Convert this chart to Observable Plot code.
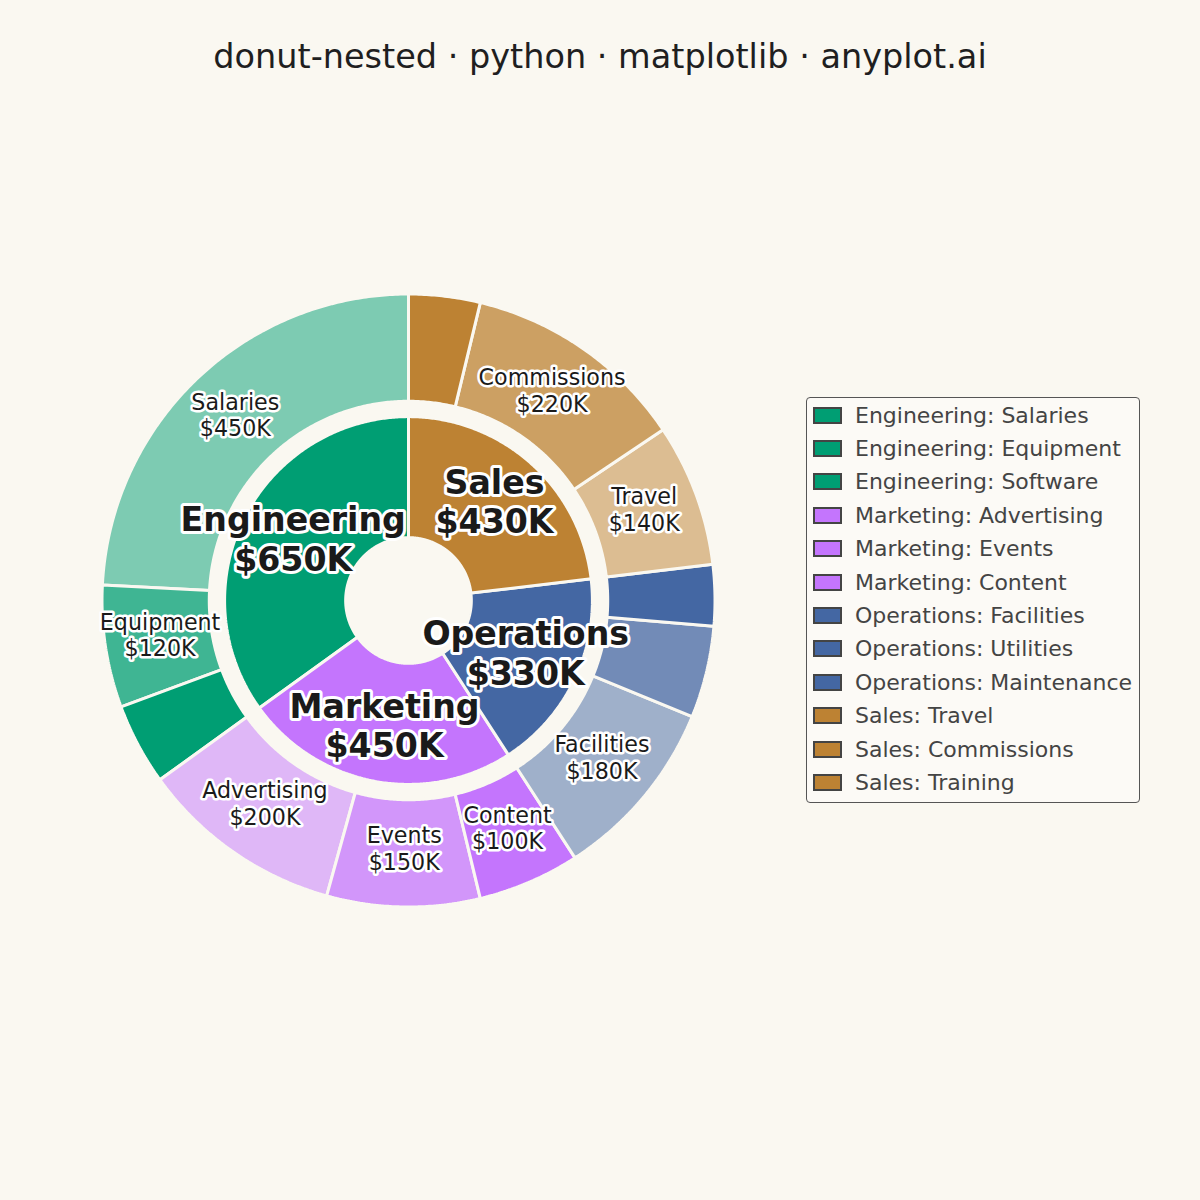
<!DOCTYPE html>
<html>
<head>
<meta charset="utf-8">
<script src="https://cdn.jsdelivr.net/npm/d3@7"></script>
<script src="https://cdn.jsdelivr.net/npm/@observablehq/plot@0.6"></script>
<style>
  html, body { margin: 0; padding: 0; background: #FAF8F1; }
  #wrap { position: relative; width: 1200px; height: 1200px; font-family: "DejaVu Sans", sans-serif; }
  #title { position: absolute; left: 0; top: 37px; width: 1200px; text-align: center; font-size: 33.5px; line-height: 40px; color: #1f1f1f; }
  #chart { position: absolute; left: 0; top: 0; }
  #legend { position: absolute; left: 806px; top: 397px; width: 332px; height: 404px; border: 1px solid #555; border-radius: 4px; background: #FCFAF6; box-sizing: content-box; }
  .row { position: absolute; left: 0; height: 34px; display: flex; align-items: center; }
  .sw { width: 25px; height: 13px; border: 2px solid #444; margin-left: 6px; margin-right: 13px; }
  .lab { font-size: 22px; color: #444; white-space: nowrap; }
</style>
</head>
<body>
<div id="wrap">
  <div id="chart"></div>
  <div id="title">donut-nested · python · matplotlib · anyplot.ai</div>
  <div id="legend"></div>
</div>
<script>
// ---- data ----
const departments = ["Engineering", "Marketing", "Operations", "Sales"];
const deptValues = [650, 450, 330, 430];
const deptColors = ["#009E73", "#C475FD", "#4467A3", "#BD8233"];

const subDept = ["Engineering", "Engineering", "Engineering",
                 "Marketing", "Marketing", "Marketing",
                 "Operations", "Operations", "Operations",
                 "Sales", "Sales", "Sales"];
const subNames = ["Salaries", "Equipment", "Software",
                  "Advertising", "Events", "Content",
                  "Facilities", "Utilities", "Maintenance",
                  "Travel", "Commissions", "Training"];
const subValues = [450, 120, 80,
                   200, 150, 100,
                   180, 90, 60,
                   140, 220, 70];
const subShade = [0.5, 0.75, 1.0]; // lightness levels within a department

// ---- layout / style constants ----
const bg = "#FAF8F1";
const rHole = 0.205, rInnerOut = 0.6, rOuterIn = 0.65, rOuterOut = 1.0;
const rInnerLabel = 0.4225, rOuterLabel = 0.82;
const labelMin = 100;
const fmt = v => `$${v}K`;

const total = d3.sum(deptValues);
const colorOf = Object.fromEntries(departments.map((d, i) => [d, deptColors[i]]));

function ring(values, r0, r1, ids) {
  const rows = [];
  const mids = [];
  let a = 90;
  values.forEach((v, i) => {
    const span = v / total * 360;
    const a0 = a, a1 = a + span;
    const n = Math.max(2, Math.ceil(span / 0.5));
    for (let k = 0; k <= n; k++) {
      const t = (a0 + (a1 - a0) * k / n) * Math.PI / 180;
      rows.push({id: ids[i], x: r1 * Math.cos(t), y: r1 * Math.sin(t), idx: i});
    }
    for (let k = n; k >= 0; k--) {
      const t = (a0 + (a1 - a0) * k / n) * Math.PI / 180;
      rows.push({id: ids[i], x: r0 * Math.cos(t), y: r0 * Math.sin(t), idx: i});
    }
    mids.push((a0 + a1) / 2);
    a = a1;
  });
  return {rows, mids};
}

const inner = ring(deptValues, rHole, rInnerOut, departments);
inner.rows.forEach(r => r.fill = deptColors[r.idx]);

const outerIds = subNames.map((s, i) => subDept[i] + ": " + s);
const outer = ring(subValues, rOuterIn, rOuterOut, outerIds);
const pos = {};
const outerFill = subValues.map((v, i) => {
  const d = subDept[i];
  pos[d] = (pos[d] ?? -1) + 1;
  return d3.interpolateRgb(bg, colorOf[d])(subShade[pos[d]]);
});
outer.rows.forEach(r => r.fill = outerFill[r.idx]);

const innerLabels = departments.map((d, i) => {
  const t = inner.mids[i] * Math.PI / 180;
  return {x: rInnerLabel * Math.cos(t), y: rInnerLabel * Math.sin(t), text: `${d}\n${fmt(deptValues[i])}`};
});
const outerLabels = subNames.map((s, i) => {
  const t = outer.mids[i] * Math.PI / 180;
  return {x: rOuterLabel * Math.cos(t), y: rOuterLabel * Math.sin(t), text: `${s}\n${fmt(subValues[i])}`, v: subValues[i]};
}).filter(d => d.v >= labelMin);

const cx = 408, cy = 600, Rpx = 306.5;
const chart = Plot.plot({
  width: 1200,
  height: 1200,
  margin: 0,
  style: {background: "transparent", fontFamily: "DejaVu Sans"},
  x: {domain: [-1, 1], range: [cx - Rpx, cx + Rpx], axis: null},
  y: {domain: [-1, 1], range: [cy + Rpx, cy - Rpx], axis: null},
  marks: [
    Plot.line(inner.rows, {x: "x", y: "y", z: "id", fill: "fill", stroke: bg, strokeWidth: 3, curve: "linear-closed", strokeLinejoin: "miter"}),
    Plot.line(outer.rows, {x: "x", y: "y", z: "id", fill: "fill", stroke: bg, strokeWidth: 3, curve: "linear-closed", strokeLinejoin: "miter"}),
    Plot.text(outerLabels, {x: "x", y: "y", dy: -4, text: "text", fontSize: 22.2, lineHeight: 1.2, fill: "#1a1a1a", stroke: "white", strokeWidth: 5, fontFamily: "DejaVu Sans"}),
    Plot.text(innerLabels, {x: "x", y: "y", dy: -3, text: "text", fontSize: 33.2, fontWeight: "bold", lineHeight: 1.2, fill: "#1a1a1a", stroke: "white", strokeWidth: 6, fontFamily: "DejaVu Sans"})
  ]
});
document.getElementById("chart").appendChild(chart);

// ---- legend ----
const legend = document.getElementById("legend");
outerIds.forEach((name, i) => {
  const row = document.createElement("div");
  row.className = "row";
  row.style.top = (i * 33.4) + "px";
  const sw = document.createElement("div");
  sw.className = "sw";
  sw.style.background = colorOf[subDept[i]];
  const lab = document.createElement("div");
  lab.className = "lab";
  lab.textContent = name;
  row.appendChild(sw);
  row.appendChild(lab);
  legend.appendChild(row);
});
</script>
</body>
</html>
